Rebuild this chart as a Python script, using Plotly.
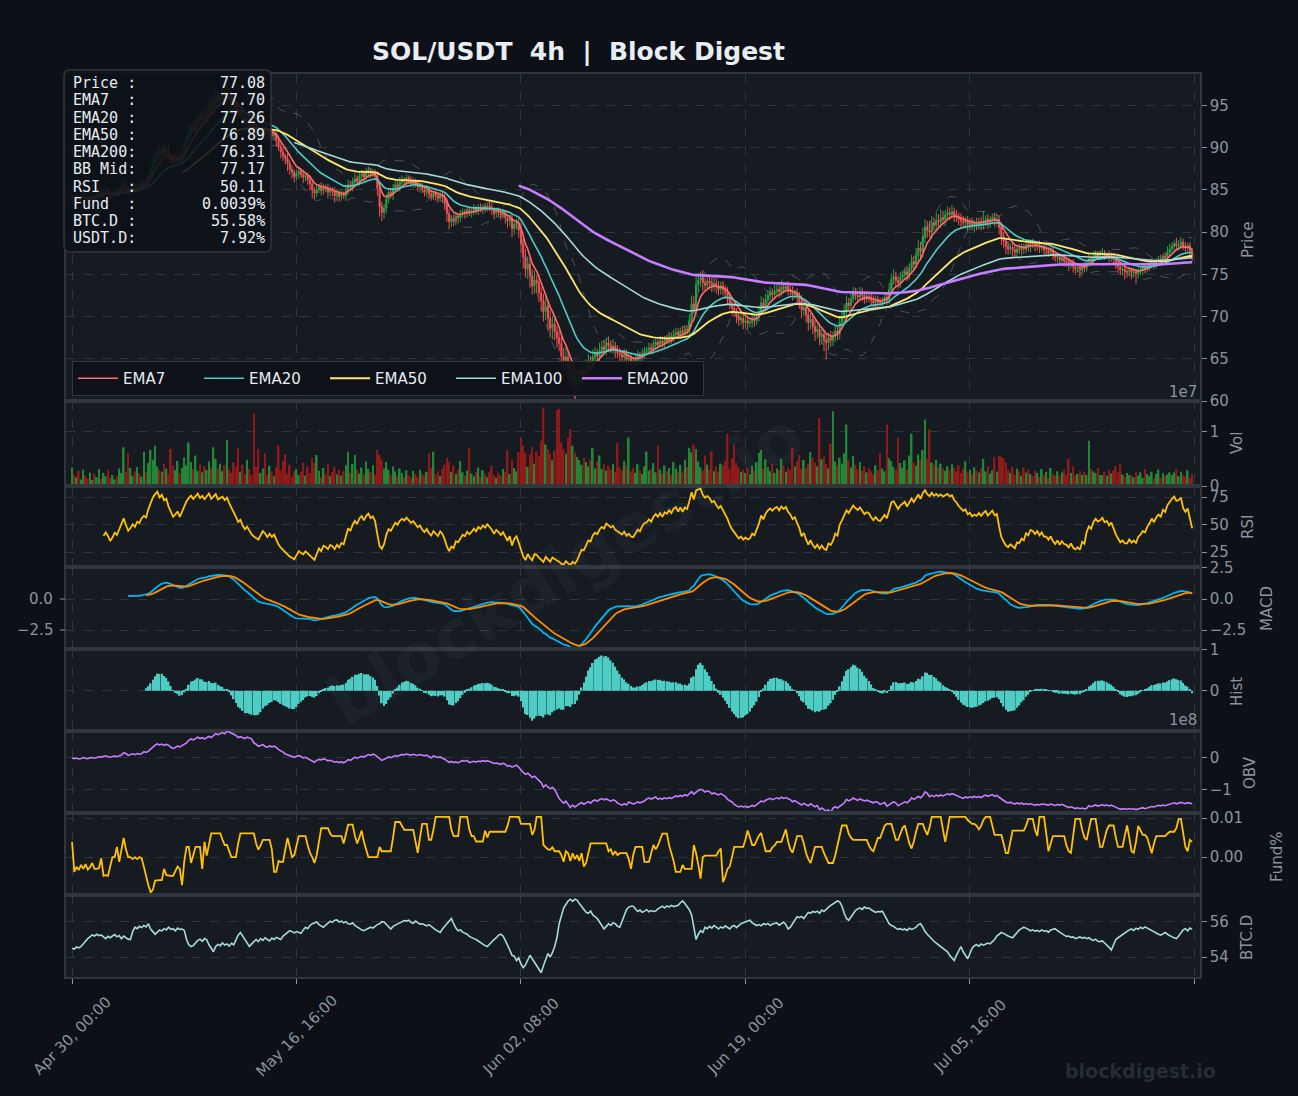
import numpy as np
import pandas as pd
import plotly.graph_objects as go

# ---------------- data (4h candles, index 0 = Apr 30 00:00) ----------------
first_open = 84.0
close = [
    84.2, 83.9, 84.1, 83.8, 84.0, 84.3, 84.0, 83.7, 83.9, 84.2,
    84.0, 84.4, 84.6, 84.3, 84.8, 85.0, 84.7, 84.2, 84.4, 84.7,
    84.5, 84.9, 85.3, 85.7, 85.2, 84.7, 84.9, 85.2, 85.0, 85.4,
    85.3, 85.7, 85.9, 85.8, 86.6, 87.4, 88.3, 89.0, 89.6, 89.2,
    89.8, 89.4, 89.7, 89.1, 88.6, 88.2, 88.5, 88.9, 88.4, 89.2,
    90.1, 91.0, 91.8, 92.4, 92.1, 92.9, 93.6, 93.2, 93.8, 93.5,
    94.2, 95.1, 94.6, 95.3, 96.0, 95.5, 95.8, 96.2, 95.9, 96.5,
    96.0, 95.6, 95.1, 94.6, 94.0, 94.3, 93.6, 93.1, 93.4, 92.8,
    92.3, 92.0, 91.7, 91.5, 91.9, 92.3, 92.0, 91.5, 91.8, 91.4,
    91.6, 90.8, 90.1, 89.5, 89.0, 88.7, 88.1, 87.4, 87.1, 86.6,
    86.9, 87.2, 86.8, 86.5, 86.7, 86.2, 85.7, 85.0, 84.6, 85.0,
    85.4, 84.9, 85.3, 85.1, 84.7, 85.0, 84.8, 84.3, 84.6, 84.2,
    84.5, 84.3, 84.9, 85.6, 85.3, 85.9, 86.3, 86.0, 86.6, 86.9,
    86.5, 87.0, 87.3, 86.9, 87.1, 86.7, 85.2, 83.0, 82.3, 82.8,
    83.9, 84.7, 84.4, 85.1, 85.6, 85.3, 85.9, 86.2, 86.0, 86.4,
    86.1, 85.8, 86.0, 85.7, 85.3, 85.5, 85.0, 84.7, 85.0, 84.5,
    84.2, 84.6, 84.3, 84.0, 84.4, 84.1, 83.4, 82.2, 81.2, 81.6,
    81.3, 81.9, 81.7, 82.1, 82.4, 82.2, 82.6, 82.3, 82.5, 82.8,
    82.5, 82.9, 82.7, 83.0, 82.8, 83.1, 82.9, 82.6, 82.2, 82.5,
    82.3, 82.0, 82.2, 81.7, 81.3, 81.6, 80.4, 80.9, 81.1, 80.2,
    78.6, 77.0, 75.6, 76.2, 74.8, 73.6, 74.3, 74.0, 72.8, 71.9,
    70.6, 71.2, 69.8, 68.6, 69.1, 68.2, 67.5, 66.8, 65.3, 64.8,
    65.2, 63.8, 62.5, 62.9, 61.7, 62.1, 62.8, 63.5, 63.2, 64.0,
    64.6, 64.3, 65.2, 65.6, 65.3, 66.0, 66.4, 66.1, 66.9, 66.6,
    66.3, 66.5, 65.9, 65.7, 65.5, 65.2, 65.5, 64.9, 65.1, 64.7,
    64.6, 64.9, 65.3, 65.1, 65.6, 65.9, 66.0, 66.3, 66.1, 66.6,
    66.9, 66.7, 67.1, 66.8, 67.3, 67.2, 67.6, 67.4, 67.9, 68.1,
    67.8, 68.3, 68.0, 68.5, 68.4, 69.5, 71.5, 70.9, 73.8, 74.3,
    74.6, 74.0, 73.7, 74.2, 74.0, 73.6, 73.9, 73.5, 73.2, 73.6,
    73.2, 72.8, 72.3, 71.6, 71.0, 70.6, 70.0, 69.6, 69.8, 69.3,
    69.5, 69.2, 69.3, 69.7, 69.5, 70.0, 70.6, 71.6, 71.2, 72.0,
    72.5, 72.8, 72.6, 73.0, 73.2, 72.9, 73.5, 73.3, 73.6, 73.2,
    73.0, 72.6, 72.8, 72.3, 71.8, 70.8, 71.1, 70.2, 69.3, 69.7,
    68.8, 68.2, 68.5, 67.6, 67.9, 67.2, 66.9, 67.5, 67.2, 67.6,
    68.3, 68.0, 69.3, 69.9, 70.6, 71.6, 71.3, 72.1, 72.8, 72.5,
    72.3, 72.8, 72.5, 72.1, 72.4, 72.3, 71.9, 71.6, 72.0, 71.7,
    71.6, 71.9, 72.3, 72.0, 73.2, 74.4, 74.7, 74.3, 74.0, 74.6,
    74.9, 75.3, 74.9, 75.7, 76.5, 76.2, 77.2, 78.1, 77.7, 79.4,
    80.6, 80.2, 80.0, 81.1, 80.8, 81.4, 81.2, 81.7, 81.5, 82.0,
    82.3, 82.1, 82.4, 82.0, 81.8, 81.5, 81.3, 81.1, 81.3, 80.9,
    81.1, 80.8, 81.0, 80.9, 81.2, 81.0, 81.3, 81.5, 81.2, 81.5,
    81.7, 81.4, 81.5, 80.6, 79.5, 78.9, 78.3, 78.0, 78.2, 77.9,
    77.6, 78.0, 77.9, 78.2, 78.0, 78.5, 78.3, 78.7, 78.6, 78.3,
    78.5, 78.1, 78.3, 77.9, 77.9, 77.6, 77.8, 77.3, 77.0, 77.2,
    76.7, 76.9, 76.6, 76.5, 76.2, 76.4, 75.9, 75.7, 75.8, 75.5,
    75.9, 75.7, 76.4, 76.8, 76.6, 77.1, 77.4, 77.2, 77.3, 77.5,
    77.2, 77.3, 77.0, 77.2, 76.7, 76.3, 75.9, 75.5, 75.6, 75.3,
    75.3, 75.5, 75.2, 75.3, 75.1, 75.4, 75.5, 75.7, 75.6, 75.9,
    76.1, 76.4, 76.2, 76.5, 76.7, 76.6, 77.1, 77.0, 77.6, 78.0,
    78.3, 78.6, 78.4, 78.5, 78.8, 78.3, 78.1, 78.4, 77.8, 77.08,
]
upper_wick = [
    0.3, 0.2, 0.4, 0.3, 0.2, 0.5, 0.3, 0.2, 0.4, 0.3,
    0.2, 0.4, 0.3, 0.5, 0.3, 0.4, 0.2, 0.3, 0.5, 0.3,
    0.4, 0.3, 0.5, 0.4, 0.3, 0.2, 0.4, 0.3, 0.6, 0.3,
    0.3, 0.4, 0.2, 0.5, 0.4, 0.6, 0.5, 0.7, 0.4, 0.8,
    0.5, 0.7, 0.4, 0.6, 0.3, 0.5, 0.8, 0.4, 0.6, 0.5,
    0.6, 0.4, 0.7, 0.5, 0.9, 0.6, 0.5, 0.8, 0.4, 0.6,
    0.7, 0.5, 0.9, 0.6, 1.1, 0.7, 0.5, 0.8, 0.6, 0.9,
    0.5, 0.7, 0.4, 0.6, 0.8, 0.5, 0.7, 0.4, 0.6, 0.5,
    0.4, 0.6, 0.5, 0.3, 0.7, 0.5, 0.4, 0.6, 0.3, 0.5,
    0.5, 0.3, 0.6, 0.4, 0.5, 0.3, 0.6, 0.4, 0.5, 0.3,
    0.4, 0.6, 0.3, 0.5, 0.4, 0.3, 0.5, 0.4, 0.3, 0.6,
    0.3, 0.5, 0.4, 0.3, 0.6, 0.4, 0.3, 0.5, 0.4, 0.3,
    0.4, 0.3, 0.5, 0.6, 0.4, 0.5, 0.7, 0.4, 0.6, 0.5,
    0.4, 0.6, 0.5, 0.3, 0.4, 0.3, 0.5, 0.4, 0.6, 0.5,
    0.6, 0.5, 0.4, 0.6, 0.5, 0.4, 0.6, 0.5, 0.3, 0.4,
    0.3, 0.5, 0.4, 0.3, 0.5, 0.4, 0.3, 0.4, 0.5, 0.3,
    0.4, 0.3, 0.5, 0.4, 0.3, 0.5, 0.4, 0.6, 0.5, 0.4,
    0.5, 0.4, 0.3, 0.5, 0.4, 0.3, 0.5, 0.4, 0.3, 0.5,
    0.3, 0.4, 0.5, 0.3, 0.4, 0.3, 0.5, 0.4, 0.3, 0.4,
    0.4, 0.3, 0.5, 0.4, 0.3, 0.5, 0.6, 0.4, 0.5, 0.6,
    0.8, 0.6, 1.0, 0.9, 0.7, 0.8, 1.1, 0.6, 0.9, 0.7,
    0.8, 1.2, 0.7, 0.9, 1.0, 0.8, 0.7, 0.9, 0.8, 1.0,
    1.1, 0.8, 0.9, 1.2, 0.8, 1.0, 0.9, 1.1, 0.7, 0.9,
    1.0, 0.7, 0.9, 0.8, 0.6, 0.9, 0.7, 0.8, 0.6, 0.7,
    0.6, 0.8, 0.5, 0.7, 0.6, 0.5, 0.7, 0.6, 0.5, 0.6,
    0.5, 0.6, 0.7, 0.5, 0.6, 0.5, 0.4, 0.6, 0.5, 0.6,
    0.5, 0.4, 0.6, 0.5, 0.4, 0.5, 0.6, 0.4, 0.5, 0.6,
    0.5, 0.4, 0.6, 0.5, 0.4, 0.8, 1.0, 0.9, 1.3, 0.8,
    0.7, 0.9, 0.6, 0.8, 0.7, 0.6, 0.8, 0.6, 0.7, 0.5,
    0.6, 0.5, 0.7, 0.6, 0.5, 0.6, 0.4, 0.5, 0.6, 0.4,
    0.5, 0.4, 0.6, 0.5, 0.4, 0.6, 0.7, 0.8, 0.6, 0.7,
    0.6, 0.7, 0.5, 0.8, 0.6, 0.5, 0.7, 0.6, 0.5, 0.6,
    0.5, 0.6, 0.4, 0.5, 0.6, 0.7, 0.5, 0.8, 0.6, 0.7,
    0.6, 0.8, 0.5, 0.7, 0.6, 0.5, 0.7, 0.6, 0.8, 0.6,
    0.7, 0.5, 0.8, 0.6, 0.7, 0.9, 0.6, 0.8, 0.7, 0.6,
    0.5, 0.7, 0.6, 0.5, 0.6, 0.5, 0.4, 0.6, 0.5, 0.4,
    0.5, 0.4, 0.6, 0.5, 0.8, 0.7, 0.9, 0.6, 0.5, 0.7,
    0.6, 0.5, 0.7, 0.6, 0.8, 0.6, 0.9, 1.0, 0.7, 1.1,
    0.9, 0.7, 1.1, 0.8, 0.6, 0.9, 0.7, 1.0, 0.8, 0.6,
    0.7, 0.6, 0.8, 0.5, 0.6, 0.5, 0.7, 0.6, 0.5, 0.6,
    0.5, 0.6, 0.4, 0.7, 0.5, 0.6, 1.2, 0.5, 0.6, 0.4,
    0.5, 0.6, 0.7, 0.5, 0.6, 0.5, 0.4, 0.6, 0.5, 0.4,
    0.5, 0.4, 0.6, 0.5, 0.4, 0.6, 0.5, 0.4, 0.5, 0.3,
    0.4, 0.5, 0.3, 0.4, 0.5, 0.3, 0.4, 0.5, 0.3, 0.4,
    0.3, 0.4, 0.5, 0.3, 0.4, 0.3, 0.4, 0.3, 0.5, 0.4,
    0.4, 0.5, 0.3, 0.6, 0.4, 0.5, 0.4, 0.3, 0.5, 0.6,
    0.4, 0.3, 0.5, 0.4, 0.3, 0.4, 0.5, 0.3, 0.4, 0.3,
    0.3, 0.4, 0.3, 0.5, 0.3, 0.4, 0.3, 0.5, 0.4, 0.3,
    0.4, 0.5, 0.3, 0.4, 0.5, 0.6, 0.4, 0.5, 0.7, 0.6,
    0.5, 0.4, 0.7, 0.5, 0.6, 0.4, 0.5, 0.3, 0.4, 0.3,
]
lower_wick = [
    0.3, 0.4, 0.2, 0.3, 0.5, 0.2, 0.3, 0.4, 0.2, 0.3,
    0.4, 0.2, 0.3, 0.4, 0.2, 0.3, 0.5, 0.3, 0.2, 0.4,
    0.3, 0.4, 0.2, 0.3, 0.5, 0.4, 0.3, 0.2, 0.4, 0.3,
    0.4, 0.3, 0.5, 0.4, 0.3, 0.4, 0.5, 0.3, 0.6, 0.5,
    0.6, 0.5, 0.7, 0.6, 0.8, 0.5, 0.6, 0.7, 0.5, 0.4,
    0.5, 0.6, 0.4, 0.7, 0.5, 0.6, 0.4, 0.7, 0.5, 0.6,
    0.5, 0.7, 0.6, 0.8, 0.5, 0.9, 0.6, 0.7, 0.8, 0.6,
    0.7, 0.8, 0.6, 0.9, 0.7, 0.6, 0.8, 0.7, 0.6, 0.8,
    0.6, 0.5, 0.7, 0.6, 0.5, 0.7, 0.6, 0.8, 0.5, 0.6,
    0.6, 0.7, 0.5, 0.8, 0.6, 0.7, 0.9, 0.6, 0.8, 0.7,
    0.5, 0.6, 0.4, 0.7, 0.5, 0.6, 0.8, 1.0, 0.7, 0.5,
    0.4, 0.6, 0.5, 0.4, 0.7, 0.5, 0.6, 0.8, 0.5, 0.6,
    0.5, 0.4, 0.6, 0.5, 0.4, 0.5, 0.4, 0.6, 0.5, 0.4,
    0.5, 0.4, 0.6, 0.5, 0.4, 0.6, 0.9, 1.2, 1.0, 0.7,
    0.6, 0.5, 0.4, 0.6, 0.5, 0.4, 0.5, 0.4, 0.6, 0.5,
    0.4, 0.5, 0.6, 0.4, 0.5, 0.6, 0.4, 0.5, 0.6, 0.5,
    0.5, 0.4, 0.6, 0.5, 0.4, 0.6, 0.8, 1.0, 0.9, 0.6,
    0.6, 0.5, 0.7, 0.5, 0.4, 0.6, 0.5, 0.4, 0.6, 0.5,
    0.4, 0.5, 0.4, 0.6, 0.5, 0.4, 0.5, 0.6, 0.7, 0.5,
    0.5, 0.6, 0.4, 0.7, 0.8, 0.6, 1.0, 0.7, 0.6, 0.9,
    1.1, 1.3, 1.0, 1.2, 1.4, 1.0, 0.9, 1.2, 1.1, 1.3,
    1.2, 1.0, 1.4, 1.1, 1.3, 1.0, 1.2, 0.9, 1.3, 1.1,
    1.0, 1.3, 1.1, 0.9, 1.6, 1.0, 0.9, 0.8, 1.0, 0.7,
    0.8, 0.9, 0.7, 0.8, 0.6, 0.7, 0.8, 0.6, 0.7, 0.8,
    0.6, 0.7, 0.8, 0.6, 0.9, 0.7, 0.6, 0.8, 0.7, 0.6,
    0.7, 0.5, 0.6, 0.7, 0.5, 0.6, 0.5, 0.4, 0.6, 0.5,
    0.5, 0.6, 0.4, 0.5, 0.6, 0.4, 0.5, 0.6, 0.4, 0.5,
    0.4, 0.5, 0.6, 0.4, 0.5, 0.6, 0.7, 0.5, 0.8, 0.9,
    0.8, 1.0, 0.7, 0.6, 0.8, 0.7, 0.6, 0.8, 0.7, 0.6,
    0.7, 0.6, 0.8, 0.7, 0.9, 0.6, 0.8, 0.7, 0.6, 0.8,
    0.6, 0.7, 0.5, 0.6, 0.7, 0.5, 0.6, 0.5, 0.7, 0.6,
    0.5, 0.6, 0.7, 0.5, 0.6, 0.7, 0.5, 0.6, 0.5, 0.7,
    0.6, 0.7, 0.5, 0.8, 0.9, 1.0, 0.7, 0.9, 1.0, 0.8,
    0.9, 1.1, 0.8, 1.0, 0.9, 1.3, 2.0, 0.9, 0.8, 0.7,
    0.6, 0.8, 0.7, 0.6, 0.7, 0.5, 0.6, 0.7, 0.5, 0.6,
    0.6, 0.5, 0.7, 0.6, 0.5, 0.6, 0.7, 0.5, 0.6, 0.7,
    0.6, 0.5, 0.4, 0.6, 0.5, 0.7, 0.6, 0.8, 0.7, 0.6,
    0.5, 0.6, 0.7, 0.5, 0.6, 0.7, 0.5, 0.6, 0.8, 0.7,
    0.7, 0.9, 0.6, 0.8, 0.7, 0.6, 0.8, 0.7, 0.6, 0.8,
    0.6, 0.7, 0.5, 0.8, 0.6, 0.7, 0.9, 0.6, 0.7, 0.8,
    0.7, 0.6, 0.8, 0.7, 0.6, 0.8, 0.7, 0.6, 0.8, 0.7,
    0.6, 0.7, 0.5, 0.9, 1.0, 0.8, 0.9, 0.7, 0.6, 0.8,
    0.7, 0.6, 0.5, 0.7, 0.6, 0.5, 0.6, 0.7, 0.5, 0.6,
    0.5, 0.6, 0.4, 0.5, 0.6, 0.5, 0.4, 0.6, 0.5, 0.6,
    0.6, 0.5, 0.7, 0.6, 0.8, 0.5, 0.7, 0.6, 0.5, 0.9,
    0.6, 0.5, 0.4, 0.5, 0.6, 0.4, 0.5, 0.4, 0.5, 0.4,
    0.5, 0.4, 0.6, 0.5, 0.6, 0.7, 0.8, 0.6, 0.7, 0.9,
    0.7, 0.6, 0.8, 0.5, 1.2, 0.6, 0.5, 0.6, 0.5, 0.4,
    0.5, 0.4, 0.6, 0.5, 0.4, 0.5, 0.4, 0.5, 0.4, 0.5,
    0.4, 0.5, 0.4, 0.6, 0.5, 0.4, 0.5, 0.4, 0.6, 0.5,
]
volume_m = [
    3.4, 2.1, 1.6, 2.8, 1.2, 3.0, 1.9, 1.4, 2.5, 1.1,
    2.2, 1.6, 3.1, 1.3, 2.4, 1.8, 2.9, 1.5, 2.0, 1.2,
    1.8, 3.2, 2.4, 7.1, 2.6, 6.0, 3.3, 1.9, 2.7, 3.5,
    2.3, 1.7, 6.3, 2.5, 4.2, 6.6, 4.8, 7.4, 3.6, 3.0,
    2.6, 4.1, 3.2, 2.2, 6.8, 3.7, 2.9, 4.6, 2.4, 3.3,
    5.2, 3.8, 8.0, 4.4, 3.1, 5.6, 2.8, 4.0, 2.5, 3.6,
    2.9, 4.5, 3.4, 7.1, 5.0, 3.2, 4.1, 2.7, 3.8, 8.5,
    3.0, 2.4, 4.4, 3.6, 7.0, 2.6, 3.9, 2.2, 4.8, 3.1,
    2.0, 13.3, 3.5, 6.8, 2.4, 3.2, 6.0, 2.1, 3.7, 2.6,
    1.8, 3.4, 7.4, 2.9, 4.6, 5.8, 2.2, 3.9, 1.7, 2.7,
    3.1, 2.0, 2.6, 4.3, 1.9, 3.6, 2.4, 5.1, 4.2, 5.7,
    2.8, 1.6, 3.3, 2.2, 4.0, 1.8, 2.6, 3.5, 2.1, 3.0,
    1.9, 2.7, 3.8, 6.3, 2.4, 4.1, 5.7, 3.0, 2.3, 3.4,
    2.2, 4.5, 3.1, 2.6, 3.8, 2.0, 6.6, 5.7, 4.9, 3.2,
    4.4, 3.0, 2.1, 3.6, 2.7, 1.8, 3.2, 2.4, 1.6, 2.9,
    2.0, 1.5, 2.8, 2.2, 1.7, 3.0, 2.3, 1.9, 2.6, 6.0,
    3.3, 6.3, 2.1, 2.7, 1.8, 3.1, 3.9, 5.2, 4.4, 2.6,
    3.8, 2.2, 3.0, 4.6, 2.5, 1.9, 2.8, 7.0, 2.3, 1.8,
    2.6, 3.4, 1.7, 2.9, 2.2, 1.6, 2.5, 3.7, 2.0, 1.5,
    2.4, 1.9, 3.1, 2.6, 6.6, 2.2, 4.8, 3.3, 2.7, 6.2,
    9.0, 7.4, 6.1, 3.5, 5.8, 7.2, 4.1, 6.4, 5.5, 8.3,
    14.4, 7.6, 6.8, 5.9, 4.7, 6.5, 14.0, 14.2, 8.0, 6.7,
    5.9, 8.8, 10.4, 7.4, 6.1, 5.3, 4.8, 3.9, 5.2, 4.4,
    3.6, 4.8, 7.0, 3.2, 4.5, 5.6, 3.1, 4.0, 2.8, 3.7,
    3.0, 4.1, 2.6, 7.9, 3.4, 2.9, 4.6, 3.8, 8.9, 2.7,
    3.3, 2.4, 4.0, 2.9, 2.2, 3.6, 6.3, 2.8, 3.1, 4.2,
    2.5, 7.4, 3.0, 2.3, 3.8, 2.7, 3.3, 2.1, 4.4, 3.2,
    2.6, 3.9, 2.4, 4.8, 3.5, 7.0, 6.2, 7.6, 6.8, 4.5,
    3.4, 2.8, 5.6, 3.9, 3.0, 6.4, 2.7, 3.6, 2.5, 4.1,
    3.8, 4.6, 9.6, 3.2, 5.1, 7.6, 4.2, 3.5, 2.6, 3.0,
    2.4, 3.3, 2.1, 3.7, 2.8, 4.4, 6.1, 6.6, 3.2, 4.9,
    3.5, 2.7, 4.1, 2.4, 3.2, 2.9, 5.0, 3.8, 2.6, 3.4,
    2.9, 7.0, 3.6, 4.5, 5.7, 3.1, 4.8, 3.3, 4.1, 6.2,
    5.1, 4.3, 3.6, 12.5, 4.9, 5.4, 4.0, 3.2, 7.8, 13.7,
    4.5, 3.8, 5.2, 4.1, 6.0, 11.3, 4.7, 3.4, 5.5, 3.9,
    3.1, 4.4, 2.8, 3.6, 2.5, 3.3, 2.7, 2.2, 3.8, 2.9,
    6.0, 3.2, 2.7, 11.3, 5.1, 4.6, 3.5, 3.0, 8.9, 4.2,
    3.3, 4.7, 3.0, 5.6, 9.6, 4.4, 3.7, 5.8, 4.9, 6.6,
    12.2, 5.0, 10.4, 4.3, 3.9, 4.8, 3.5, 4.1, 3.2, 2.8,
    3.6, 2.9, 4.0, 3.3, 2.7, 3.8, 2.4, 3.1, 4.5, 2.6,
    3.0, 2.2, 3.4, 2.8, 2.5, 3.2, 5.0, 2.7, 3.6, 2.3,
    2.9, 5.3, 2.6, 5.5, 5.4, 5.1, 4.3, 3.0, 2.4, 3.5,
    2.1, 3.2, 2.7, 1.9, 3.4, 2.5, 3.0, 2.2, 1.8, 2.8,
    2.4, 1.7, 3.1, 2.0, 2.6, 1.5, 3.3, 2.3, 1.9, 2.7,
    1.8, 2.5, 3.0, 2.1, 5.0, 2.4, 3.6, 1.9, 2.2, 2.8,
    2.0, 2.6, 2.0, 8.3, 3.1, 2.7, 2.4, 3.3, 2.0, 2.0,
    2.6, 1.9, 3.0, 2.3, 2.8, 3.6, 2.5, 4.0, 2.1, 1.7,
    2.4, 2.0, 2.0, 1.6, 2.7, 1.9, 2.5, 1.5, 3.1, 2.2,
    1.8, 2.6, 1.4, 2.2, 3.0, 1.6, 2.4, 1.9, 2.1, 2.5,
    2.0, 2.5, 3.1, 1.8, 2.6, 2.0, 1.7, 2.9, 1.5, 2.2,
]
# funding rate, in thousandths of a percent (3.9 -> 0.0039 %)
funding_milli = [
    3.9, -3.8, -2.5, -3.3, -2.0, -3.0, -1.8, -3.2, -2.6, -1.5,
    -3.0, -3.0, -2.8, -0.3, -4.8, -4.6, -4.8, -2.0, 0.0, 0.0,
    2.6, -1.2, 1.5, 4.9, 2.0, 0.0, 0.0, -0.5, 0.0, -0.5,
    0.0, -0.3, -2.5, -5.0, -7.2, -9.0, -8.4, -6.0, -5.9, -5.9,
    -5.9, -3.0, -4.6, -4.8, -4.8, -4.8, -3.5, -2.4, -3.0, -7.2,
    -1.0, 2.6, 2.6, -1.5, 0.5, 2.6, 2.6, 2.6, -3.0, 3.9,
    0.4, 3.0, 6.1, 6.1, 6.1, 6.1, 6.1, 4.5, 3.1, 3.1,
    1.5, 0.0, 0.0, 0.0, 3.5, 6.1, 6.1, 6.1, 6.1, 6.1,
    6.1, 6.1, 3.5, 1.9, 3.0, 4.4, 4.4, 4.4, 4.4, 2.0,
    -3.8, -3.8, -1.0, -1.2, -1.2, 2.0, 4.9, 2.5, 0.0, 0.5,
    3.0, 5.4, 5.4, 5.4, 5.4, 3.0, 1.1, 0.0, -1.5, 0.5,
    4.0, 7.4, 7.4, 7.4, 7.4, 6.0, 5.4, 5.4, 5.4, 5.4,
    5.4, 3.5, 6.0, 8.3, 8.3, 8.3, 5.5, 3.5, 5.0, 6.8,
    4.0, 2.0, 0.0, 0.0, 0.0, 0.0, 0.0, 2.6, 1.5, 1.5,
    1.5, 1.5, 1.5, 5.0, 9.0, 9.0, 9.0, 8.0, 7.0, 7.0,
    7.0, 7.0, 7.0, 4.0, 1.1, 5.0, 8.5, 8.5, 8.5, 4.4,
    4.4, 7.0, 10.3, 10.3, 10.3, 10.3, 10.3, 10.3, 10.3, 7.0,
    5.4, 5.4, 5.4, 10.3, 10.3, 10.3, 10.3, 7.0, 5.4, 5.4,
    4.0, 4.0, 4.0, 4.0, 6.8, 5.0, 6.5, 6.5, 6.5, 6.5,
    6.5, 6.5, 6.5, 6.5, 8.0, 10.3, 10.3, 10.3, 10.3, 10.3,
    8.5, 8.5, 8.5, 8.5, 8.5, 5.7, 7.0, 10.3, 10.3, 10.3,
    3.1, 2.5, 2.0, 1.9, 2.5, 1.5, 1.5, 1.5, 0.5, -1.2,
    1.5, 1.0, -1.0, 1.0, -0.5, 0.5, -1.0, 1.0, -2.4, -1.5,
    1.0, 3.5, 3.5, 3.5, 3.5, 3.5, 3.5, 3.5, 3.5, 1.5,
    2.0, 0.5, 1.5, 0.5, 1.0, 1.0, 1.0, 1.0, -0.5, -3.0,
    0.5, 2.6, 2.6, 2.6, 2.6, -1.2, -1.2, -1.2, 1.0, 3.1,
    2.0, 3.0, 4.5, 6.0, 6.0, 6.0, 3.0, 1.0, -1.0, -3.8,
    -3.8, -3.8, -2.0, -3.0, -3.0, -3.0, -3.0, 3.1, 1.0, -2.0,
    -5.5, 0.0, 0.4, 0.4, 0.4, 0.4, 0.4, 0.4, 1.5, 2.2,
    -6.4, -5.0, -3.0, -2.4, 0.0, 2.6, 2.6, 2.6, 2.6, 2.6,
    4.5, 6.8, 5.0, 3.1, 3.1, 4.5, 5.5, 6.2, 4.0, 1.5,
    1.5, 1.5, 2.5, 3.0, 3.9, 3.9, 3.9, 5.5, 7.1, 4.0,
    2.0, 1.1, 3.0, 5.4, 5.4, 5.4, 3.5, 1.0, -0.5, -1.5,
    0.5, 2.6, 2.6, 2.6, 2.6, 1.0, -0.5, -1.5, -1.5, -1.5,
    0.5, 3.0, 6.0, 8.1, 8.1, 8.1, 6.0, 5.0, 4.4, 4.4,
    4.4, 4.4, 4.4, 4.4, 4.4, 3.0, 2.0, 1.5, 3.0, 4.9,
    4.9, 6.5, 8.0, 8.5, 8.5, 8.5, 6.5, 4.4, 4.4, 6.0,
    7.5, 8.1, 5.5, 3.5, 2.2, 4.0, 6.5, 8.5, 8.5, 8.5,
    7.0, 5.7, 7.5, 10.3, 10.3, 10.3, 10.3, 10.3, 7.0, 3.9,
    7.0, 10.3, 10.3, 10.3, 10.3, 10.3, 10.3, 10.3, 10.3, 9.5,
    9.0, 8.5, 8.5, 8.0, 7.1, 8.0, 9.5, 10.3, 10.3, 10.3,
    8.0, 5.7, 5.7, 5.7, 5.7, 3.5, 1.0, 1.0, 4.0, 6.8,
    6.8, 6.8, 6.8, 6.8, 6.8, 8.0, 9.8, 9.8, 9.8, 7.0,
    5.4, 10.3, 10.3, 10.3, 6.0, 1.5, 3.5, 5.4, 5.4, 5.4,
    5.4, 5.4, 5.4, 3.0, 1.5, 1.1, 5.0, 9.8, 9.8, 9.8,
    7.0, 5.0, 4.4, 7.0, 9.8, 9.8, 9.8, 6.0, 2.6, 2.6,
    5.0, 7.0, 8.1, 8.1, 8.1, 5.0, 2.6, 2.6, 2.6, 5.5,
    8.1, 5.0, 1.5, 1.1, 4.0, 8.0, 7.0, 5.7, 5.7, 5.0,
    3.0, 1.0, 3.5, 5.4, 5.4, 5.4, 5.4, 5.4, 6.0, 6.5,
    6.5, 6.5, 7.5, 9.8, 9.8, 6.0, 2.6, 1.5, 4.4, 3.9,
]
btc_dom = [
    54.50, 54.45, 54.58, 54.52, 54.60, 54.78, 54.90, 55.05, 55.18, 55.26,
    55.20, 55.30, 55.22, 55.26, 55.15, 55.05, 55.18, 55.10, 55.20, 55.28,
    55.15, 55.22, 55.05, 55.20, 55.10, 55.02, 55.00, 55.45, 55.70, 55.62,
    55.75, 55.68, 55.80, 55.72, 55.90, 55.60, 55.45, 55.30, 55.42, 55.55,
    55.48, 55.62, 55.55, 55.70, 55.58, 55.62, 55.50, 55.65, 55.58, 55.60,
    55.52, 55.00, 54.70, 54.60, 54.65, 54.80, 54.95, 55.02, 54.90, 55.05,
    54.98, 54.70, 54.50, 54.30, 54.60, 54.72, 54.65, 54.80, 54.68, 54.75,
    54.62, 54.78, 54.70, 55.00, 55.25, 55.40, 55.20, 54.95, 54.80, 54.60,
    54.75, 54.90, 55.00, 54.88, 55.05, 54.95, 55.10, 55.00, 54.92, 55.08,
    55.00, 55.12, 55.05, 55.00, 55.20, 55.30, 55.42, 55.50, 55.45, 55.38,
    55.45, 55.40, 55.35, 55.55, 55.70, 55.62, 55.80, 55.90, 55.95, 56.00,
    55.85, 55.78, 55.70, 55.82, 55.95, 56.05, 55.98, 56.10, 56.12, 56.00,
    56.05, 55.95, 56.02, 55.90, 55.88, 55.95, 55.80, 55.70, 55.62, 55.55,
    55.50, 55.58, 55.62, 55.70, 55.65, 55.78, 55.85, 55.90, 56.02, 56.00,
    55.85, 55.70, 55.60, 55.75, 55.82, 55.90, 55.95, 56.02, 56.08, 56.05,
    56.10, 55.98, 55.92, 56.05, 55.95, 55.88, 55.90, 55.82, 55.78, 55.85,
    55.72, 55.65, 55.55, 55.45, 55.40, 55.60, 55.75, 55.90, 56.05, 56.20,
    55.90, 55.65, 55.50, 55.55, 55.42, 55.35, 55.30, 55.18, 55.10, 55.05,
    55.00, 54.90, 54.80, 54.72, 54.65, 54.60, 54.75, 54.90, 55.00, 55.10,
    55.25, 55.30, 55.20, 54.95, 54.70, 54.40, 54.10, 54.05, 53.80, 53.95,
    53.60, 53.40, 53.55, 53.85, 54.10, 53.90, 53.70, 53.45, 53.30, 53.10,
    53.50, 53.85, 54.20, 54.00, 54.25, 54.60, 55.10, 55.90, 56.40, 56.80,
    57.00, 57.20, 57.30, 57.18, 57.30, 57.25, 57.05, 56.90, 56.70, 56.55,
    56.50, 56.62, 56.40, 56.30, 56.20, 56.00, 55.80, 55.60, 55.75, 55.90,
    55.80, 55.95, 55.90, 55.75, 55.70, 56.00, 56.40, 56.70, 56.85, 56.90,
    56.90, 56.75, 56.60, 56.68, 56.55, 56.62, 56.70, 56.58, 56.65, 56.60,
    56.62, 56.75, 56.85, 56.90, 56.80, 56.92, 56.85, 56.95, 56.88, 56.90,
    56.95, 57.10, 57.20, 57.05, 56.85, 56.70, 56.40, 55.80, 55.00, 55.30,
    55.50, 55.40, 55.70, 55.62, 55.75, 55.65, 55.80, 55.70, 55.60, 55.72,
    55.65, 55.78, 55.70, 55.60, 55.75, 55.80, 55.68, 55.82, 55.90, 55.95,
    56.00, 56.05, 56.10, 55.95, 55.88, 55.80, 55.85, 55.78, 55.90, 55.85,
    55.92, 55.80, 55.88, 55.90, 55.95, 55.82, 55.90, 56.00, 55.85, 55.60,
    55.70, 55.90, 56.10, 56.30, 56.25, 56.32, 56.20, 56.40, 56.55, 56.50,
    56.60, 56.55, 56.62, 56.50, 56.68, 56.60, 56.75, 56.85, 56.95, 57.05,
    57.10, 57.20, 57.15, 56.90, 56.50, 56.20, 56.10, 56.30, 56.50, 56.65,
    56.75, 56.80, 56.72, 56.85, 56.78, 56.80, 56.70, 56.62, 56.55, 56.60,
    56.58, 56.62, 56.40, 56.10, 55.90, 55.80, 55.75, 55.65, 55.58, 55.62,
    55.55, 55.60, 55.52, 55.65, 55.58, 55.62, 55.70, 55.85, 55.90, 55.70,
    55.45, 55.30, 55.15, 55.05, 54.90, 54.80, 54.70, 54.55, 54.50, 54.40,
    54.30, 54.10, 53.95, 53.80, 54.10, 54.40, 54.60, 54.30, 54.10, 53.90,
    54.20, 54.50, 54.65, 54.70, 54.62, 54.75, 54.68, 54.72, 54.80, 54.75,
    54.85, 55.00, 55.20, 55.30, 55.40, 55.35, 55.25, 55.20, 55.15, 55.10,
    55.25, 55.40, 55.55, 55.62, 55.70, 55.65, 55.58, 55.50, 55.55, 55.48,
    55.52, 55.45, 55.55, 55.48, 55.50, 55.42, 55.55, 55.60, 55.62, 55.50,
    55.40, 55.30, 55.25, 55.18, 55.20, 55.12, 55.15, 55.05, 55.10, 55.15,
    55.08, 55.12, 55.05, 55.10, 55.00, 54.95, 55.02, 54.90, 54.88, 54.92,
    54.80, 54.70, 54.55, 54.40, 54.70, 55.00, 55.10, 55.20, 55.30, 55.40,
    55.45, 55.55, 55.60, 55.52, 55.65, 55.58, 55.70, 55.62, 55.72, 55.65,
    55.55, 55.48, 55.40, 55.35, 55.30, 55.25, 55.35, 55.40, 55.30, 55.20,
    55.15, 55.10, 55.05, 55.20, 55.40, 55.55, 55.62, 55.50, 55.65, 55.58,
]
tick_index = [0, 100, 200, 300, 400, 500]
tick_text = ["Apr 30, 00:00", "May 16, 16:00", "Jun 02, 08:00", "Jun 19, 00:00", "Jul 05, 16:00", ""]
info_labels = ["Price :", "EMA7  :", "EMA20 :", "EMA50 :", "EMA200:", "BB Mid:", "RSI   :", "Fund  :", "BTC.D :", "USDT.D:"]
info_values = ["77.08", "77.70", "77.26", "76.89", "76.31", "77.17", "50.11", "0.0039%", "55.58%", "7.92%"]
ema_periods = [7, 20, 50, 100, 200]

# ---------------- derived series ----------------
c = pd.Series(close, dtype=float)
n = len(c)
x = np.arange(n)
o = c.shift(1)
o.iloc[0] = first_open
hi = np.maximum(o, c) + np.array(upper_wick)
lo = np.minimum(o, c) - np.array(lower_wick)
vol = np.array(volume_m) * 1e6

emas = {p: c.ewm(span=p, adjust=True, min_periods=p).mean() for p in ema_periods}
bb_mid = c.rolling(20).mean()
bb_sd = c.rolling(20).std(ddof=0)
bb_up, bb_lo = bb_mid + 2 * bb_sd, bb_mid - 2 * bb_sd

d = c.diff()
gain = d.clip(lower=0).ewm(alpha=1 / 14, adjust=False, min_periods=14).mean()
loss = (-d.clip(upper=0)).ewm(alpha=1 / 14, adjust=False, min_periods=14).mean()
rsi = 100 - 100 / (1 + gain / loss)

macd = c.ewm(span=12, adjust=False).mean() - c.ewm(span=26, adjust=False).mean()
macd.iloc[:25] = np.nan
signal = macd.ewm(span=9, adjust=False, min_periods=9).mean()
hist = macd - signal

direction = np.sign(d.fillna(0)).values
obv = np.cumsum(direction * vol)
fund = np.array(funding_milli) / 1000.0
up_mask = (c.values >= o.values)

# ---------------- styling ----------------
BG = "#0d1117"
PBG = "#161b22"
GRID = "#30363d"
FRAME = "#30363d"
TXT = "#8b949e"
WHITE = "#e6edf3"
FONT = "DejaVu Sans"
UP, DN = "#2ea043", "#f0524f"
VUP, VDN = "#238636", "#8e1a1a"
EMA_COL = {7: "#ff6b6b", 20: "#4ecdc4", 50: "#ffe66d", 100: "#a8dadc", 200: "#c77dff"}
EMA_W = {7: 1.6, 20: 1.6, 50: 1.8, 100: 1.6, 200: 2.6}

L, R, T, B = 66, 1200, 74, 977


def px(v):
    return (v - L) / (R - L)


def py(v):
    return (B - v) / (B - T)


panels = [(74, 401), (401, 486), (486, 567), (567, 649), (649, 731), (731, 813), (813, 895), (895, 977)]

fig = go.Figure()

fig.add_trace(go.Candlestick(
    x=x, open=o, high=hi, low=lo, close=c, xaxis="x", yaxis="y",
    increasing=dict(line=dict(color=UP, width=1), fillcolor=UP),
    decreasing=dict(line=dict(color=DN, width=1), fillcolor=DN),
    whiskerwidth=0, showlegend=False, hoverinfo="skip"))
for band in (bb_up, bb_lo):
    fig.add_trace(go.Scatter(x=x, y=band, mode="lines", xaxis="x", yaxis="y",
                             line=dict(color="rgba(139,148,158,0.45)", width=1, dash="dash"),
                             showlegend=False, hoverinfo="skip"))
for p in ema_periods:
    fig.add_trace(go.Scatter(x=x, y=emas[p], mode="lines", name=f"EMA{p}", xaxis="x", yaxis="y",
                             line=dict(color=EMA_COL[p], width=EMA_W[p]), hoverinfo="skip"))

fig.add_trace(go.Bar(x=x, y=vol, xaxis="x2", yaxis="y2", width=0.75,
                     marker=dict(color=[VUP if u else VDN for u in up_mask], line=dict(width=0)),
                     showlegend=False, hoverinfo="skip"))
fig.add_trace(go.Scatter(x=x, y=rsi, mode="lines", xaxis="x3", yaxis="y3",
                         line=dict(color="#ffc107", width=1.8), showlegend=False, hoverinfo="skip"))
fig.add_trace(go.Scatter(x=x, y=macd, mode="lines", xaxis="x4", yaxis="y4",
                         line=dict(color="#00b4f0", width=1.8), showlegend=False, hoverinfo="skip"))
fig.add_trace(go.Scatter(x=x, y=signal, mode="lines", xaxis="x4", yaxis="y4",
                         line=dict(color="#ff8c00", width=1.8), showlegend=False, hoverinfo="skip"))
fig.add_trace(go.Bar(x=x, y=hist, xaxis="x5", yaxis="y5", width=0.75,
                     marker=dict(color="#4ecdc4", line=dict(width=0)), showlegend=False, hoverinfo="skip"))
fig.add_trace(go.Scatter(x=x, y=obv, mode="lines", xaxis="x6", yaxis="y6",
                         line=dict(color="#c77dff", width=1.6), showlegend=False, hoverinfo="skip"))
fig.add_trace(go.Scatter(x=x, y=fund, mode="lines", xaxis="x7", yaxis="y7",
                         line=dict(color="#ffc107", width=1.8), showlegend=False, hoverinfo="skip"))
fig.add_trace(go.Scatter(x=x, y=btc_dom, mode="lines", xaxis="x8", yaxis="y8",
                         line=dict(color="#a8dadc", width=1.6), showlegend=False, hoverinfo="skip"))

y_specs = [
    dict(range=[60, 98.7], tickvals=[60, 65, 70, 75, 80, 85, 90, 95], ticktext=["60", "65", "70", "75", "80", "85", "90", "95"]),
    dict(range=[0, 1.56e7], tickvals=[0, 1e7], ticktext=["0", "1"]),
    dict(range=[11.4, 85], tickvals=[25, 50, 75], ticktext=["25", "50", "75"]),
    dict(range=[-4.03, 2.58], tickvals=[-2.5, 0, 2.5], ticktext=["\u22122.5", "0.0", "2.5"]),
    dict(range=[-0.98, 1.02], tickvals=[0, 1], ticktext=["0", "1"]),
    dict(range=[-1.72e8, 0.84e8], tickvals=[-1e8, 0], ticktext=["\u22121", "0"]),
    dict(range=[-0.0097, 0.0113], tickvals=[-0.01, 0, 0.01], ticktext=["\u22120.01", "0.00", "0.01"]),
    dict(range=[52.86, 57.54], tickvals=[54, 56], ticktext=["54", "56"]),
]

layout = dict(
    width=1298, height=1096, autosize=False,
    paper_bgcolor=BG, plot_bgcolor=PBG,
    margin=dict(l=L, r=1298 - R, t=T, b=1096 - B),
    font=dict(family=FONT, color=TXT, size=15),
    hovermode=False, bargap=0.2,
    showlegend=True,
    legend=dict(orientation="h", x=px(72), y=py(396), xanchor="left", yanchor="bottom",
                bgcolor="rgba(13,17,23,0.9)", bordercolor=FRAME, borderwidth=1,
                font=dict(family=FONT, size=15, color=WHITE),
                entrywidth=71, entrywidthmode="pixels", itemwidth=40, tracegroupgap=0),
)
for i, (top, bot) in enumerate(panels, start=1):
    sfx = "" if i == 1 else str(i)
    layout[f"xaxis{sfx}"] = dict(
        domain=[0, 1], anchor=f"y{sfx}", range=[-2.7, 502.5],
        tickvals=tick_index, showticklabels=False,
        showgrid=True, gridcolor=GRID, griddash="dash", gridwidth=1,
        showline=True, mirror=True, linecolor=FRAME, linewidth=1.5, zeroline=False,
        ticks="outside" if i == 8 else "", ticklen=5, tickcolor=TXT,
        rangeslider=dict(visible=False), fixedrange=True,
    )
    if i > 1:
        layout[f"xaxis{sfx}"]["matches"] = "x"
    spec = y_specs[i - 1]
    layout[f"yaxis{sfx}"] = dict(
        domain=[py(bot), py(top)], anchor=f"x{sfx}", side="right",
        range=spec["range"], tickvals=spec["tickvals"], ticktext=spec["ticktext"],
        ticks="outside", ticklen=5, tickcolor=TXT, tickfont=dict(size=15, color=TXT),
        showgrid=True, gridcolor=GRID, griddash="dash", gridwidth=1,
        showline=True, mirror=True, linecolor=FRAME, linewidth=1.5, zeroline=False,
        fixedrange=True,
    )
fig.update_layout(**layout)

ann = []
# title
ann.append(dict(text="<b>SOL/USDT\u00a0\u00a04h\u00a0\u00a0|\u00a0\u00a0Block Digest</b>", x=px(578), y=py(52),
                xref="paper", yref="paper", showarrow=False, xanchor="center", yanchor="middle",
                font=dict(size=25, color=WHITE, family=FONT)))
# right side axis titles
for label, cx, cy in [("Price", 1248, 240), ("Vol", 1237, 443), ("RSI", 1248, 527), ("MACD", 1267, 609),
                      ("Hist", 1237, 692), ("OBV", 1250, 773), ("Fund%", 1277, 857), ("BTC.D", 1247, 938)]:
    ann.append(dict(text=label, x=px(cx), y=py(cy), xref="paper", yref="paper", showarrow=False,
                    textangle=-90, xanchor="center", yanchor="middle", font=dict(size=15, color=TXT)))
# offset texts
for label, cy in [("1e7", 392), ("1e8", 720)]:
    ann.append(dict(text=label, x=px(1199), y=py(cy), xref="paper", yref="paper", showarrow=False,
                    xanchor="right", yanchor="middle", font=dict(size=15, color=TXT)))
# MACD left tick labels
for label, cy in [("0.0", 599), ("\u22122.5", 630)]:
    ann.append(dict(text=label, x=px(55), y=py(cy), xref="paper", yref="paper", showarrow=False,
                    xanchor="right", yanchor="middle", font=dict(size=15, color=TXT)))
# x tick labels (rotated, centred on tick)
for tv, tt in zip(tick_index, tick_text):
    if tt:
        ann.append(dict(text=tt, x=tv, y=py(1036), xref="x8", yref="paper", showarrow=False,
                        textangle=-45, xanchor="center", yanchor="middle", font=dict(size=15, color=TXT)))
# info box text
for k, (lab, val) in enumerate(zip(info_labels, info_values)):
    cy = 83 + k * 17.25
    ann.append(dict(text=lab.replace(" ", "\u00a0"), x=px(71), y=py(cy), xref="paper", yref="paper",
                    showarrow=False, xanchor="left", yanchor="middle",
                    font=dict(family="DejaVu Sans Mono", size=15, color=WHITE)))
    ann.append(dict(text=val, x=px(267), y=py(cy), xref="paper", yref="paper",
                    showarrow=False, xanchor="right", yanchor="middle",
                    font=dict(family="DejaVu Sans Mono", size=15, color=WHITE)))
# watermarks
ann.append(dict(text="<b>blockdigest.io</b>", x=px(565), y=py(568), xref="paper", yref="paper",
                showarrow=False, textangle=-31, xanchor="center", yanchor="middle",
                font=dict(size=68, color="rgba(139,148,158,0.06)", family=FONT)))
ann.append(dict(text="<b>blockdigest.io</b>", x=px(1140), y=py(1071), xref="paper", yref="paper",
                showarrow=False, xanchor="center", yanchor="middle",
                font=dict(size=19, color="#262c35", family=FONT)))


def rrect(x0, y0, x1, y1, r):
    X, Y = px, py
    return (f"M {X(x0 + r)},{Y(y0)} L {X(x1 - r)},{Y(y0)} Q {X(x1)},{Y(y0)} {X(x1)},{Y(y0 + r)} "
            f"L {X(x1)},{Y(y1 - r)} Q {X(x1)},{Y(y1)} {X(x1 - r)},{Y(y1)} "
            f"L {X(x0 + r)},{Y(y1)} Q {X(x0)},{Y(y1)} {X(x0)},{Y(y1 - r)} "
            f"L {X(x0)},{Y(y0 + r)} Q {X(x0)},{Y(y0)} {X(x0 + r)},{Y(y0)} Z")


shapes = [
    dict(type="path", path=rrect(64, 70, 271, 252, 6), xref="paper", yref="paper",
         fillcolor="rgba(13,17,23,0.88)", line=dict(color=FRAME, width=1.5), layer="above"),
]
for cy in (599, 630):
    shapes.append(dict(type="line", x0=px(60), x1=px(65), y0=py(cy), y1=py(cy), xref="paper", yref="paper",
                       line=dict(color=TXT, width=1)))
fig.update_layout(annotations=ann, shapes=shapes)

fig.write_html("out.html")
